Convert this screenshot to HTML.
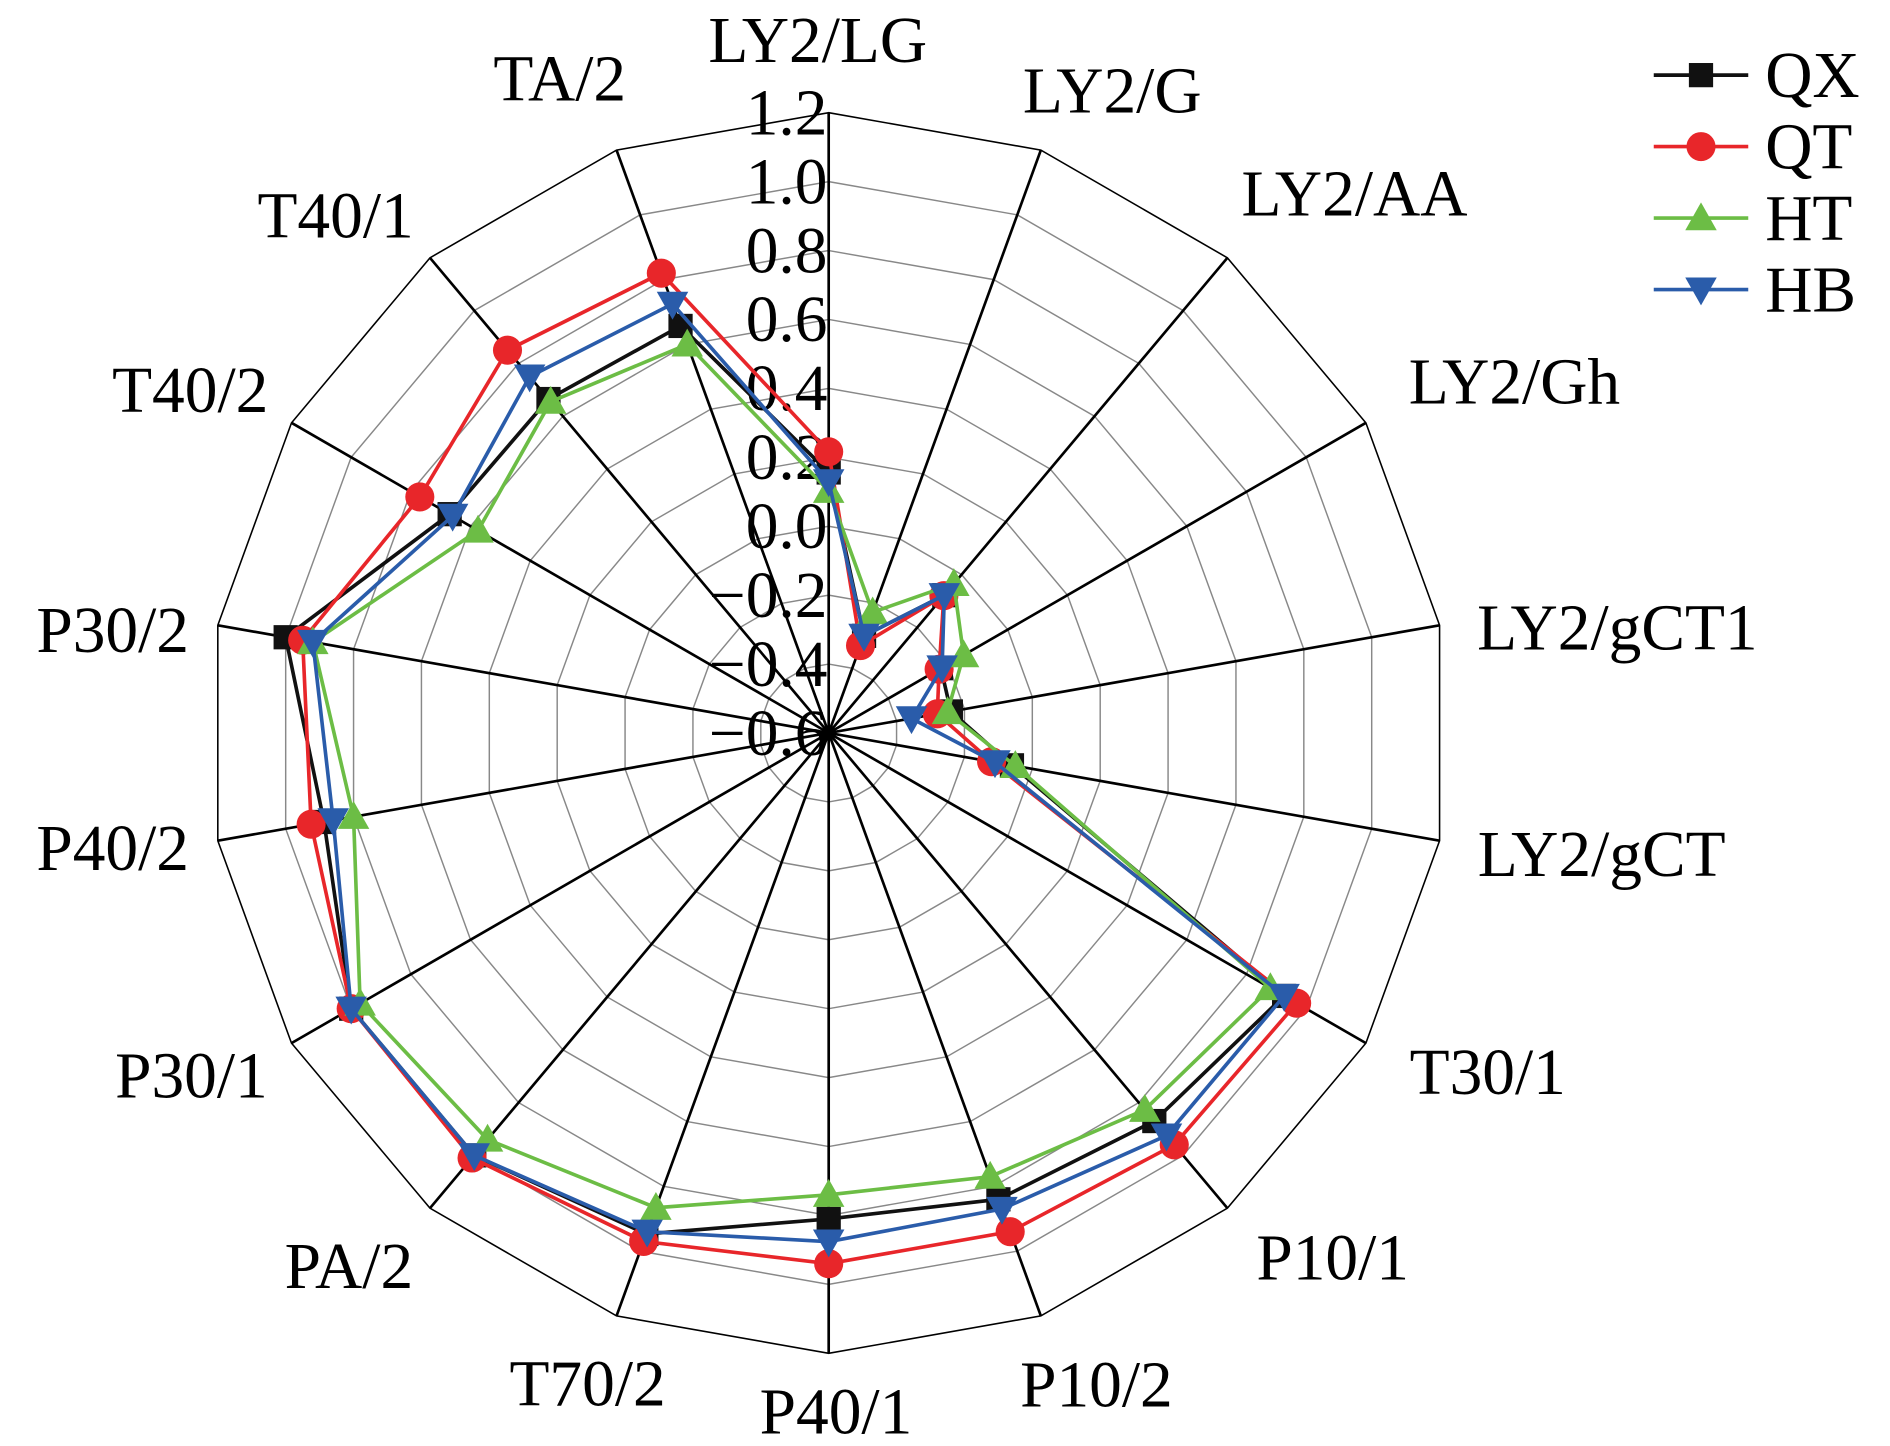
<!DOCTYPE html>
<html><head><meta charset="utf-8"><style>
html,body{margin:0;padding:0;background:#fff;}
svg{display:block;}
text{font-family:"Liberation Serif",serif;}
</style></head><body>
<svg id="s" width="1890" height="1446" viewBox="0 0 1560 1193.5" xmlns="http://www.w3.org/2000/svg"></svg>
<script>
const s=document.getElementById('s');
const cx=684,cy=605,R=512;
const NS="http://www.w3.org/2000/svg";
function el(t,a,txt){const e=document.createElementNS(NS,t);for(const k in a)e.setAttribute(k,a[k]);if(txt!==undefined)e.textContent=txt;s.appendChild(e);return e;}
function pt(i,v){const th=i*20*Math.PI/180;const r=(v+0.6)/1.8*R;return [cx+r*Math.sin(th),cy-r*Math.cos(th)];}
for(let k=1;k<=9;k++){const v=-0.6+k*0.2;let p=[];for(let i=0;i<18;i++)p.push(pt(i,v).join(','));
el('polygon',{points:p.join(' '),fill:'none',stroke:k==9?'#000':'#888','stroke-width':k==9?1.3:1.2});}
for(let i=0;i<18;i++){const p=pt(i,1.2);el('line',{x1:cx,y1:cy,x2:p[0],y2:p[1],stroke:'#000','stroke-width':2.2});}
const FS=54;
const ticks=['−0.6','−0.4','−0.2','0.0','0.2','0.4','0.6','0.8','1.0','1.2'];
ticks.forEach((t,k)=>{el('text',{x:683,y:cy-k*R/9+18,'text-anchor':'end','font-size':FS},t);});
const labs=[['LY2/LG',675,33],['LY2/G',918,75],['LY2/AA',1118,160],['LY2/Gh',1250,315],['LY2/gCT1',1335,518],['LY2/gCT',1322,705],['T30/1',1228,885],['P10/1',1100,1038],['P10/2',905,1143],['P40/1',690,1165],['T70/2',485,1142],['PA/2',288,1045],['P30/1',158,888],['P40/2',93,700],['P30/2',93,520],['T40/2',157,322],['T40/1',277,178],['TA/2',462,65]];
labs.forEach(l=>el('text',{x:l[1],y:l[2]+18,'text-anchor':'middle','font-size':FS},l[0]));
const data={
QX:[0.156,-0.30,-0.078,-0.224,-0.24,-0.06,0.926,0.87,0.84,0.81,0.947,1.0,1.0,0.887,1.0,0.67,0.665,0.657],
QT:[0.216,-0.33,-0.08,-0.23,-0.28,-0.12,0.968,0.96,0.94,0.94,0.97,1.01,1.0,0.925,0.95,0.77,0.85,0.82],
HT:[0.103,-0.227,-0.035,-0.148,-0.25,-0.05,0.88,0.827,0.77,0.74,0.866,0.94,0.97,0.80,0.92,0.575,0.655,0.60],
HB:[0.13,-0.30,-0.078,-0.22,-0.356,-0.11,0.926,0.925,0.87,0.876,0.94,1.0,1.0,0.86,0.92,0.66,0.75,0.725]};
const col={QX:'#111',QT:'#e8262a',HT:'#6cbd45',HB:'#2a5caa'};
function marker(n,x,y){const c=col[n];
if(n=='QX')el('rect',{x:x-10,y:y-10,width:20,height:20,fill:c});
else if(n=='QT')el('circle',{cx:x,cy:y,r:12,fill:c});
else if(n=='HT')el('polygon',{points:`${x},${y-13} ${x+13},${y+10} ${x-13},${y+10}`,fill:c});
else el('polygon',{points:`${x-13},${y-10} ${x+13},${y-10} ${x},${y+13}`,fill:c});}
['QX','QT','HT','HB'].forEach(n=>{const p=data[n].map((v,i)=>pt(i,v));
el('polygon',{points:p.map(a=>a.join(',')).join(' '),fill:'none',stroke:col[n],'stroke-width':3});
p.forEach(a=>marker(n,a[0],a[1]));});
['QX','QT','HT','HB'].forEach((n,k)=>{const y=62+k*59;
el('line',{x1:1365,y1:y,x2:1443,y2:y,stroke:col[n],'stroke-width':3});marker(n,1404,y);
el('text',{x:1457,y:y+18,'font-size':FS},n);});
</script>
</body></html>
